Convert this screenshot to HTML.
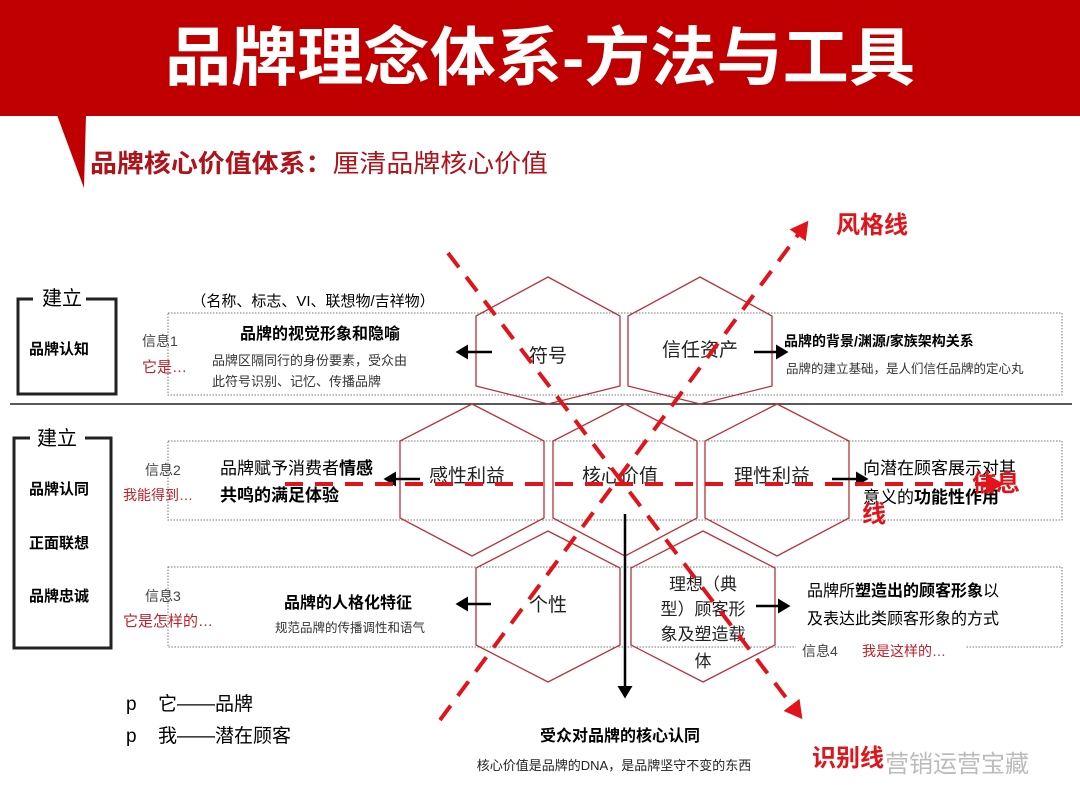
<!DOCTYPE html>
<html><head><meta charset="utf-8"><style>
html,body{margin:0;padding:0;background:#fff}
svg{display:block}
text{font-family:"Liberation Sans","Noto Sans CJK SC",sans-serif}
</style></head><body>
<svg width="1080" height="810" viewBox="0 0 1080 810" xmlns="http://www.w3.org/2000/svg">
<defs>
<marker id="ra" markerWidth="5" markerHeight="5" refX="3.5" refY="2.5" orient="auto" markerUnits="strokeWidth"><path d="M0,0 L4.5,2.5 L0,5 z" fill="#e0141a"/></marker>
<marker id="ba" markerWidth="6" markerHeight="6" refX="4" refY="3" orient="auto" markerUnits="strokeWidth"><path d="M0,0 L5,3 L0,6 z" fill="#000"/></marker>
</defs>
<rect x="0" y="0" width="1080" height="116" fill="#c00000"/>
<polygon points="57,115 86,115 84,188" fill="#c00000"/>
<text x="540" y="80" font-size="64" font-weight="bold" fill="#fff" text-anchor="middle" textLength="750" lengthAdjust="spacingAndGlyphs">品牌理念体系-方法与工具</text>
<text x="90" y="172" font-size="25" fill="#b0121a" textLength="458" lengthAdjust="spacingAndGlyphs"><tspan font-weight="bold">品牌核心价值体系：</tspan>厘清品牌核心价值</text>

<!-- dotted boxes -->
<g fill="none" stroke="#777" stroke-width="1" stroke-dasharray="1.5,1.5">
<rect x="168" y="313" width="894" height="82"/>
<rect x="168" y="441" width="894" height="79"/>
<rect x="168" y="567" width="894" height="80"/>
</g>
<line x1="10" y1="404" x2="1072" y2="404" stroke="#222" stroke-width="1.5"/>

<!-- hexagons -->
<g fill="none" stroke="#b8323a" stroke-width="1.3">
<polygon points="548,277 620,316 620,386 548,404 476,386 476,316"/>
<polygon points="700,277 772,316 772,386 700,404 628,386 628,316"/>
<polygon points="472,404 544,441 544,518 472,556 400,518 400,441"/>
<polygon points="625,404 697,441 697,518 625,556 553,518 553,441"/>
<polygon points="777,404 849,441 849,518 777,556 705,518 705,441"/>
<polygon points="548,531 620,568 620,645 548,682 476,645 476,568"/>
<polygon points="703,531 775,568 775,645 703,682 631,645 631,568"/>
</g>

<!-- left boxes -->
<path d="M33,299 L18,299 L18,394 L116,394 L116,299 L86,299" fill="none" stroke="#222" stroke-width="3"/>
<text x="62" y="305" font-size="20" text-anchor="middle">建立</text>
<text x="59" y="354" font-size="15" font-weight="bold" text-anchor="middle">品牌认知</text>
<path d="M30,438 L14,438 L14,648 L111,648 L111,438 L85,438" fill="none" stroke="#222" stroke-width="3"/>
<text x="57" y="445" font-size="20" text-anchor="middle">建立</text>
<text x="59" y="494" font-size="15" font-weight="bold" text-anchor="middle">品牌认同</text>
<text x="59" y="548" font-size="15" font-weight="bold" text-anchor="middle">正面联想</text>
<text x="59" y="601" font-size="15" font-weight="bold" text-anchor="middle">品牌忠诚</text>

<!-- row1 -->
<text x="313" y="306" font-size="15" text-anchor="middle">（名称、标志、VI、联想物/吉祥物）</text>
<text x="142" y="346" font-size="14" fill="#444">信息1</text>
<text x="142" y="372" font-size="15" fill="#c0202a">它是…</text>
<text x="320" y="339" font-size="16" font-weight="bold" text-anchor="middle">品牌的视觉形象和隐喻</text>
<text x="212" y="365" font-size="13" fill="#333">品牌区隔同行的身份要素，受众由</text>
<text x="212" y="386" font-size="13" fill="#333">此符号识别、记忆、传播品牌</text>
<text x="548" y="362" font-size="19" text-anchor="middle" fill="#222">符号</text>
<text x="700" y="356" font-size="19" text-anchor="middle" fill="#222">信任资产</text>
<text x="784" y="346" font-size="14" font-weight="bold">品牌的背景/渊源/家族架构关系</text>
<text x="786" y="373" font-size="12.5" fill="#333">品牌的建立基础，是人们信任品牌的定心丸</text>
<line x1="492" y1="352" x2="458" y2="352" stroke="#000" stroke-width="2.5" marker-end="url(#ba)"/>
<line x1="754" y1="352" x2="786" y2="352" stroke="#000" stroke-width="2.5" marker-end="url(#ba)"/>

<!-- row2 -->
<text x="145" y="475" font-size="14" fill="#444">信息2</text>
<text x="123" y="500" font-size="14" fill="#c0202a">我能得到…</text>
<text x="220" y="474" font-size="17">品牌赋予消费者<tspan font-weight="bold">情感</tspan></text>
<text x="220" y="501" font-size="17" font-weight="bold">共鸣的满足体验</text>
<text x="467" y="482" font-size="19" text-anchor="middle" fill="#222">感性利益</text>
<text x="620" y="482" font-size="19" text-anchor="middle" fill="#222">核心价值</text>
<text x="772" y="482" font-size="19" text-anchor="middle" fill="#222">理性利益</text>
<text x="863" y="474" font-size="17">向潜在顾客展示对其</text>
<text x="863" y="503" font-size="17">意义的<tspan font-weight="bold">功能性作用</tspan></text>
<line x1="420" y1="479" x2="386" y2="479" stroke="#000" stroke-width="2.5" marker-end="url(#ba)"/>
<line x1="832" y1="479" x2="866" y2="479" stroke="#000" stroke-width="2.5" marker-end="url(#ba)"/>

<!-- row3 -->
<text x="145" y="601" font-size="14" fill="#444">信息3</text>
<text x="123" y="626" font-size="15" fill="#c0202a">它是怎样的…</text>
<text x="348" y="608" font-size="16" font-weight="bold" text-anchor="middle">品牌的人格化特征</text>
<text x="350" y="632" font-size="12.5" fill="#333" text-anchor="middle">规范品牌的传播调性和语气</text>
<text x="548" y="611" font-size="19" text-anchor="middle" fill="#222">个性</text>
<text x="703" y="590" font-size="17" text-anchor="middle" fill="#222">理想（典</text>
<text x="703" y="615" font-size="17" text-anchor="middle" fill="#222">型）顾客形</text>
<text x="703" y="640" font-size="17" text-anchor="middle" fill="#222">象及塑造载</text>
<text x="703" y="667" font-size="17" text-anchor="middle" fill="#222">体</text>
<text x="807" y="596" font-size="16">品牌所<tspan font-weight="bold">塑造出的顾客形象</tspan>以</text>
<text x="807" y="624" font-size="16">及表达此类顾客形象的方式</text>
<rect x="796" y="640" width="170" height="22" fill="#fff"/>
<text x="802" y="656" font-size="14" fill="#444">信息4</text>
<text x="862" y="656" font-size="14" fill="#c0202a">我是这样的…</text>
<line x1="491" y1="604" x2="458" y2="604" stroke="#000" stroke-width="2.5" marker-end="url(#ba)"/>
<line x1="756" y1="606" x2="788" y2="606" stroke="#000" stroke-width="2.5" marker-end="url(#ba)"/>

<!-- core arrow -->
<line x1="625" y1="514" x2="625" y2="696" stroke="#000" stroke-width="2.5" marker-end="url(#ba)"/>
<text x="620" y="741" font-size="16" font-weight="bold" text-anchor="middle">受众对品牌的核心认同</text>
<text x="614" y="770" font-size="13" text-anchor="middle" fill="#222">核心价值是品牌的DNA，是品牌坚守不变的东西</text>

<!-- red dashed lines -->
<g stroke="#e0141a" stroke-width="4" stroke-dasharray="18,12" fill="none">
<line x1="448" y1="253" x2="800" y2="716" marker-end="url(#ra)"/>
<line x1="440" y1="720" x2="806" y2="224" marker-end="url(#ra)"/>
<line x1="285" y1="484" x2="1000" y2="484" marker-end="url(#ra)"/>
</g>
<text x="836" y="233" font-size="24" font-weight="bold" fill="#e0141a">风格线</text>
<text x="972" y="491" font-size="24" font-weight="bold" fill="#e0141a">信息</text>
<text x="862" y="522" font-size="24" font-weight="bold" fill="#e0141a">线</text>
<text x="812" y="766" font-size="24" font-weight="bold" fill="#e0141a">识别线</text>
<text x="885" y="772" font-size="24" fill="#bbb">营销运营宝藏</text>

<text x="126" y="710" font-size="19">p</text>
<text x="158" y="710" font-size="19">它——品牌</text>
<text x="126" y="742" font-size="19">p</text>
<text x="158" y="742" font-size="19">我——潜在顾客</text>
</svg>
</body></html>
